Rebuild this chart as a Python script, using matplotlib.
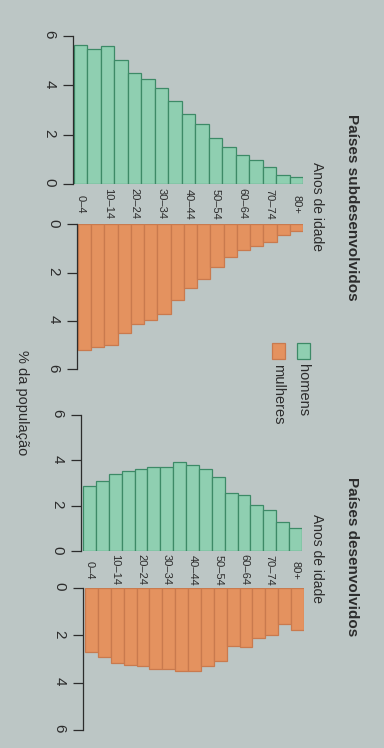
"""
Pirâmides etárias: países subdesenvolvidos x países desenvolvidos
(figura girada 90°, como na foto do livro)
"""

import numpy as np
import matplotlib
matplotlib.use("Agg")
import matplotlib.pyplot as plt
from matplotlib.patches import Rectangle
from matplotlib.transforms import blended_transform_factory

plt.rcParams['font.family'] = ['Liberation Sans', 'DejaVu Sans']

# ─── Dados (% da população) ───────────────────────────────────────────────────

AGE_GROUPS = ['0–4', '5–9', '10–14', '15–19', '20–24', '25–29', '30–34',
              '35–39', '40–44', '45–49', '50–54', '55–59', '60–64',
              '65–69', '70–74', '75–79', '80+']

SUB_HOMENS = [5.63, 5.48, 5.58, 5.01, 4.49, 4.26, 3.91, 3.38, 2.85,
              2.45, 1.85, 1.52, 1.19, 0.99, 0.70, 0.36, 0.28]
SUB_MULHERES = [5.23, 5.07, 5.02, 4.50, 4.12, 3.95, 3.70, 3.15, 2.62,
                2.28, 1.76, 1.35, 1.05, 0.89, 0.72, 0.44, 0.27]

DES_HOMENS = [2.86, 3.10, 3.40, 3.54, 3.61, 3.69, 3.71, 3.92, 3.81,
              3.63, 3.25, 2.57, 2.49, 2.04, 1.79, 1.28, 1.03]
DES_MULHERES = [2.72, 2.90, 3.17, 3.27, 3.30, 3.41, 3.44, 3.52, 3.52,
                3.30, 3.08, 2.45, 2.49, 2.10, 1.99, 1.53, 1.78]

TICKS = [0, 2, 4, 6]

# ─── Estilo ────────────────────────────────────────────────────────────────────

W, H = 384, 748
BG = '#bcc6c5'
TEXT = '#2c2c2c'
GREEN, GREEN_EDGE = '#8fcfb1', '#3d8a67'
ORANGE, ORANGE_EDGE = '#e4925f', '#c97a4e'


def fig_box(x0, y0, x1, y1):
    """Caixa em pixels (origem no topo) -> fração da figura."""
    return [x0 / W, 1 - y1 / H, (x1 - x0) / W, (y1 - y0) / H]


def add_side(fig, values, spine_x, bar_x0, bar_x1, y_zero, y_six, down):
    n = len(values)
    bw = (bar_x1 - bar_x0) / n
    left = -0.5 - (bar_x0 - spine_x) / bw
    if down:
        ax = fig.add_axes(fig_box(spine_x, y_zero, bar_x1, y_six))
    else:
        ax = fig.add_axes(fig_box(spine_x, y_six, bar_x1, y_zero))
    ax.set_facecolor('none')
    color, edge = (ORANGE, ORANGE_EDGE) if down else (GREEN, GREEN_EDGE)
    ax.bar(np.arange(n), values, width=1.0, color=color, edgecolor=edge,
           linewidth=0.9)
    ax.set_xlim(left, n - 0.5)
    ax.set_ylim((6, 0) if down else (0, 6))
    ax.set_yticks(TICKS)
    ax.set_xticks([])
    ax.tick_params(axis='y', direction='out', length=7, width=0.9,
                   colors=TEXT, labelsize=11, labelrotation=-90, pad=5)
    for s in ('top', 'right', 'bottom'):
        ax.spines[s].set_visible(False)
    ax.spines['left'].set_color(TEXT)
    ax.spines['left'].set_linewidth(0.9)
    return ax


def age_labels(fig, ax, y_px):
    trans = blended_transform_factory(ax.transData, fig.transFigure)
    for i, lab in enumerate(AGE_GROUPS):
        if i % 2 == 0:
            ax.text(i, 1 - y_px / H, lab, rotation=-90, ha='center',
                    va='center', fontsize=8, color=TEXT, transform=trans)


def vtext(fig, x_px, y_px, s, **kw):
    fig.text(x_px / W, 1 - y_px / H, s, rotation=-90, color=TEXT, **kw)


# ─── Figura ────────────────────────────────────────────────────────────────────

fig = plt.figure(figsize=(W / 100, H / 100), dpi=100, facecolor=BG)

# subdesenvolvidos
ax = add_side(fig, SUB_HOMENS, 73, 74, 303, 184, 36, down=False)
add_side(fig, SUB_MULHERES, 77, 78, 303, 224.5, 369, down=True)
age_labels(fig, ax, 204)

# desenvolvidos
ax = add_side(fig, DES_HOMENS, 81, 83, 302, 551, 415, down=False)
add_side(fig, DES_MULHERES, 83, 85, 304, 588, 730, down=True)
age_labels(fig, ax, 570)

# títulos
vtext(fig, 352, 207, 'Países subdesenvolvidos', fontsize=11,
      fontweight='bold', ha='center', va='center')
vtext(fig, 352, 557, 'Países desenvolvidos', fontsize=11,
      fontweight='bold', ha='center', va='center')
vtext(fig, 317, 207, 'Anos de idade', fontsize=10, ha='center', va='center')
vtext(fig, 317, 558, 'Anos de idade', fontsize=10, ha='center', va='center')
vtext(fig, 22, 403, '% da população', fontsize=10.5, ha='center', va='center')

# legenda
for x0, color, edge, label in ((297, GREEN, GREEN_EDGE, 'homens'),
                               (272, ORANGE, ORANGE_EDGE, 'mulheres')):
    fig.add_artist(Rectangle((x0 / W, 1 - 359 / H), 13 / W, 16 / H,
                             transform=fig.transFigure, facecolor=color,
                             edgecolor=edge, linewidth=0.9))
    vtext(fig, x0 + 6.5, 364, label, fontsize=10.5, ha='center', va='top')

fig.savefig('out.png', dpi=100, facecolor=BG)
